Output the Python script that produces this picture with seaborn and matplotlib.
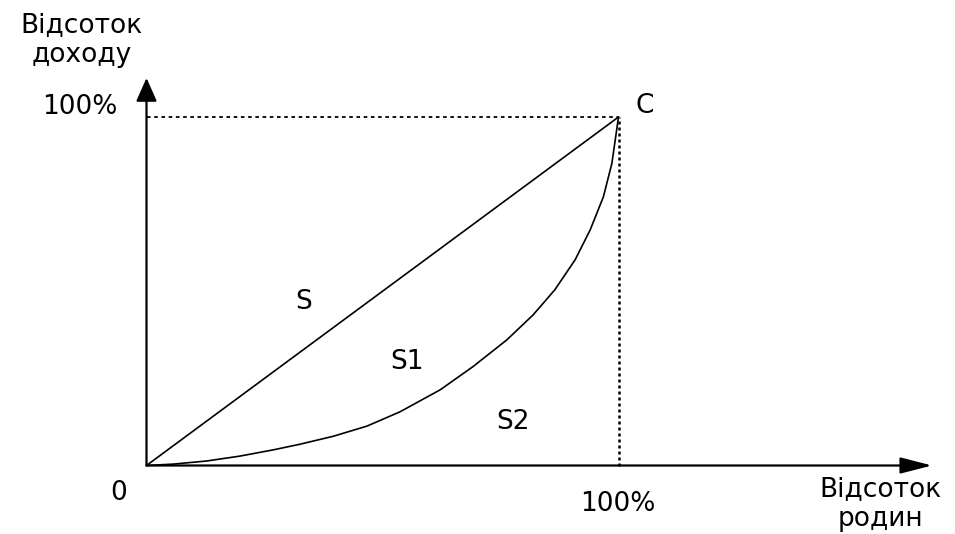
import matplotlib
matplotlib.use("Agg")
import matplotlib.pyplot as plt
import pandas as pd
import seaborn as sns

# Lorenz curve (share of families vs share of income)
families = [0.0, 0.057, 0.128, 0.198, 0.269, 0.325, 0.396, 0.467, 0.537, 0.622,
            0.692, 0.763, 0.819, 0.865, 0.908, 0.940, 0.968, 0.986, 0.996, 1.0]
income = [0.0, 0.004, 0.013, 0.027, 0.045, 0.061, 0.084, 0.113, 0.154, 0.217,
          0.284, 0.360, 0.432, 0.504, 0.590, 0.676, 0.771, 0.867, 0.962, 1.0]
equality_x = [0.0, 1.0]
equality_y = [0.0, 1.0]

region_labels = ["S", "S1", "S2"]
region_x = [0.332, 0.552, 0.776]
region_y = [0.469, 0.297, 0.125]

sns.set_theme(style="white")
plt.rcParams["font.family"] = ["DejaVu Sans"]
plt.rcParams["text.color"] = "black"

fig = plt.figure(figsize=(9.55, 5.34), dpi=100)
ax = fig.add_axes([0, 0, 1, 1])
ax.set_xlim(-146.5 / 472, 808.5 / 472)
ax.set_ylim(-68.5 / 348.5, 465.5 / 348.5)
ax.axis("off")

curve = pd.DataFrame({"x": families, "y": income})
line = pd.DataFrame({"x": equality_x, "y": equality_y})
sns.lineplot(data=line, x="x", y="y", color="black", lw=1.2, ax=ax, sort=False)
sns.lineplot(data=curve, x="x", y="y", color="black", lw=1.2, ax=ax, sort=False)

# dotted guides to point C
ax.plot([0, 1], [1, 1], color="black", lw=1.3, ls=(0, (2, 2)))
ax.plot([1, 1], [0, 1], color="black", lw=1.8, ls=(0, (1.2, 1.2)))

# axes with arrows
ax.annotate("", xy=(1.664, 0), xytext=(0, 0),
            arrowprops=dict(arrowstyle="-|>,head_length=0.97,head_width=0.25", lw=1.6,
                            color="black", shrinkA=0, shrinkB=0, mutation_scale=20))
ax.annotate("", xy=(0, 1.112), xytext=(0, 0),
            arrowprops=dict(arrowstyle="-|>,head_length=0.72,head_width=0.32", lw=1.6,
                            color="black", shrinkA=0, shrinkB=0, mutation_scale=20))

fs = 19
for lab, x, y in zip(region_labels, region_x, region_y):
    ax.text(x, y, lab, fontsize=fs, ha="center", va="center")
ax.text(1.056, 1.032, "C", fontsize=fs, ha="center", va="center")
ax.text(-0.058, -0.079, "0", fontsize=fs, ha="center", va="center")
ax.text(0.999, -0.110, "100%", fontsize=fs, ha="center", va="center")
ax.text(-0.141, 1.029, "100%", fontsize=fs, ha="center", va="center")
ax.text(-0.137, 1.221, "Відсоток\nдоходу", fontsize=fs, ha="center", va="center",
        linespacing=1.2)
ax.text(1.554, -0.11, "Відсоток\nродин", fontsize=fs, ha="center", va="center",
        linespacing=1.2)

fig.savefig("out.png", dpi=100)
